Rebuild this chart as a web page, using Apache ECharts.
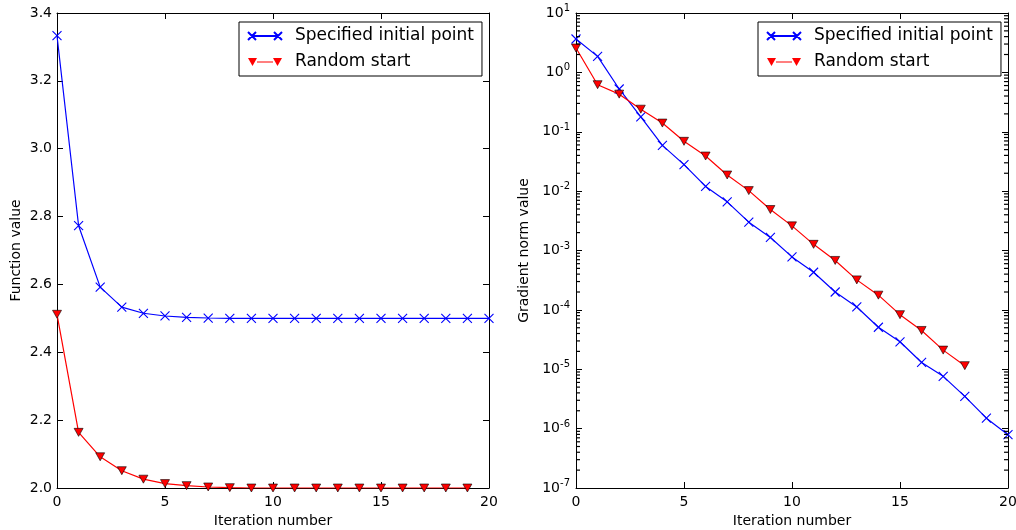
<!DOCTYPE html>
<html>
<head>
<meta charset="utf-8">
<script src="https://cdn.jsdelivr.net/npm/echarts@6/dist/echarts.min.js"></script>
<style>
  html, body { margin: 0; padding: 0; background: #fff; }
  #chart { width: 1016px; height: 530px; }
</style>
</head>
<body>
<div id="chart"></div>
<script>
// values, index = iteration number
const seriesNames = ["Specified initial point", "Random start"]
const blueF = [3.333, 2.773, 2.592, 2.533, 2.515, 2.507, 2.503, 2.501, 2.500, 2.500, 2.500,
               2.500, 2.500, 2.500, 2.500, 2.500, 2.500, 2.500, 2.500, 2.500, 2.500]
const redF = [2.512, 2.164, 2.092, 2.051, 2.026, 2.013, 2.007, 2.003, 2.001, 2.000,
              2.000, 2.000, 2.000, 2.000, 2.000, 2.000, 2.000, 2.000, 2.000, 2.000]
const blueG = [3.65, 1.86, 0.525, 0.178, 0.059, 0.028, 0.012, 0.0066, 0.0030, 0.00166, 0.00078,
               0.00043, 0.0002, 0.000112, 5.1e-5, 2.9e-5, 1.3e-5, 7.6e-6, 3.5e-6, 1.5e-6, 7.9e-7]
const redG = [2.57, 0.62, 0.43, 0.24, 0.14, 0.069, 0.039, 0.0187, 0.0102, 0.0049, 0.0026,
              0.00127, 0.00068, 0.00032, 0.000177, 8.3e-5, 4.5e-5, 2.1e-5, 1.15e-5]
const decades = [-7, -6, -5, -4, -3, -2, -1, 0]

const font = "DejaVu Sans"
const black = "#000"

function pairs(arr) {
    return arr.map((v, i) => [i, v])
}

// minor ticks at 2..9 x 10^n
let minorVals = []
for (const d of decades) {
    for (let k = 2; k <= 9; k++) minorVals.push(k * Math.pow(10, d))
}

const xSymbol = "path://M0,0L10,10M10,0L0,10"
const blueIcon = "path://M0,0L8,8M8,0L0,8M4,4L30,4M26,0L34,8M34,0L26,8"
const redIcon = "path://M0,0L9,0L4.5,8ZM9,3.5L25,3.5L25,4.5L9,4.5ZM25,0L34,0L29.5,8Z"

const frameLine = {onZero: false, lineStyle: {color: black, width: 1}}

function tickStyle(len) {
    return {inside: true, length: len, lineStyle: {color: black}}
}

function xAxes(grid) {
    const base = {
        type: "value", gridIndex: grid, min: 0, max: 20, interval: 5,
        splitLine: {show: false},
        axisLine: frameLine,
        axisTick: tickStyle(6)
    }
    return [
        Object.assign({}, base, {
            position: "bottom",
            name: "Iteration number", nameLocation: "middle", nameGap: 25,
            nameTextStyle: {fontFamily: font, fontSize: 14, color: black},
            axisLabel: {fontFamily: font, fontSize: 14, color: black, margin: 7}
        }),
        Object.assign({}, base, {position: "top", axisLabel: {show: false}})
    ]
}

let chart = echarts.init(document.getElementById("chart"), null, {renderer: "canvas"})

const legendBase = {
    orient: "vertical",
    top: 22,
    padding: [4, 8, 4, 8],
    itemWidth: 34,
    itemHeight: 8,
    itemGap: 6,
    borderColor: black,
    borderWidth: 1,
    backgroundColor: "#fff",
    selectedMode: false,
    textStyle: {fontFamily: font, fontSize: 17, color: black, lineHeight: 20, padding: [0, 0, 0, 8]},
    data: [
        {name: seriesNames[0], icon: blueIcon},
        {name: seriesNames[1], icon: redIcon, itemStyle: {borderWidth: 0}}
    ]
}

function blueSeries(data, xi, yi) {
    return {
        name: seriesNames[0], type: "line", data: data,
        xAxisIndex: xi, yAxisIndex: yi,
        symbol: xSymbol, symbolSize: 9,
        itemStyle: {color: "rgba(0,0,0,0)", borderColor: "#0000ff", borderWidth: 1.1},
        lineStyle: {color: "#0000ff", width: 1.2},
        z: 2
    }
}

function redSeries(data, xi, yi) {
    return {
        name: seriesNames[1], type: "line", data: data,
        xAxisIndex: xi, yAxisIndex: yi,
        symbol: "triangle", symbolRotate: 180, symbolSize: [9, 8],
        itemStyle: {color: "#ff0000", borderColor: black, borderWidth: 0.6},
        lineStyle: {color: "#ff0000", width: 1.2},
        z: 3
    }
}

// short inside ticks at 2..9 x 10^n on both sides of the log panel,
// drawn as symbols of a line series with its line hidden
function minorTicks(name, xVal, shift) {
    return {
        name: name, type: "line", xAxisIndex: 2, yAxisIndex: 2,
        data: minorVals.map(v => [xVal, v]),
        showSymbol: true, showAllSymbol: true,
        symbol: "rect", symbolSize: [4, 1.2], symbolOffset: [shift, 0],
        itemStyle: {color: black, borderWidth: 0},
        lineStyle: {width: 0, opacity: 0},
        silent: true, clip: false, z: 5
    }
}

const supLabel = {
    fontFamily: font, fontSize: 14, color: black, margin: 6,
    formatter: v => "10{sup|" + Math.round(Math.log10(v)) + "}",
    rich: {
        sup: {fontFamily: font, fontSize: 10, color: black, padding: [0, 0, 9, 0]}
    }
}

const plotBox = {top: 13, width: 432, height: 475, outerBoundsMode: "none"}

var option = {
    backgroundColor: "#fff",
    animation: false,
    textStyle: {fontFamily: font},
    grid: [
        Object.assign({left: 57}, plotBox),
        Object.assign({left: 576}, plotBox)
    ],
    legend: [
        Object.assign({}, legendBase, {left: 239}),
        Object.assign({}, legendBase, {left: 758})
    ],
    xAxis: xAxes(0).concat(xAxes(1)),
    yAxis: [
        {
            type: "value", gridIndex: 0, position: "left", min: 2.0, max: 3.4, interval: 0.2,
            name: "Function value", nameLocation: "middle", nameGap: 34,
            nameTextStyle: {fontFamily: font, fontSize: 14, color: black},
            splitLine: {show: false},
            axisLine: frameLine,
            axisTick: tickStyle(6),
            axisLabel: {fontFamily: font, fontSize: 14, color: black, margin: 5, formatter: v => v.toFixed(1)}
        },
        {
            type: "value", gridIndex: 0, position: "right", min: 2.0, max: 3.4, interval: 0.2,
            splitLine: {show: false},
            axisLine: frameLine,
            axisTick: tickStyle(6),
            axisLabel: {show: false}
        },
        {
            type: "log", logBase: 10, gridIndex: 1, position: "left", min: 1e-7, max: 10, splitNumber: 8,
            name: "Gradient norm value", nameLocation: "middle", nameGap: 45,
            nameTextStyle: {fontFamily: font, fontSize: 14, color: black},
            splitLine: {show: false},
            axisLine: frameLine,
            axisTick: tickStyle(6),
            axisLabel: supLabel
        },
        {
            type: "log", logBase: 10, gridIndex: 1, position: "right", min: 1e-7, max: 10, splitNumber: 8,
            splitLine: {show: false},
            axisLine: frameLine,
            axisTick: tickStyle(6),
            axisLabel: {show: false}
        }
    ],
    series: [
        blueSeries(pairs(blueF), 0, 0),
        redSeries(pairs(redF), 0, 0),
        blueSeries(pairs(blueG), 2, 2),
        redSeries(pairs(redG), 2, 2),
        minorTicks("minorLeft", 0, 2),
        minorTicks("minorRight", 20, -2)
    ]
}

chart.setOption(option)
</script>
</body>
</html>
